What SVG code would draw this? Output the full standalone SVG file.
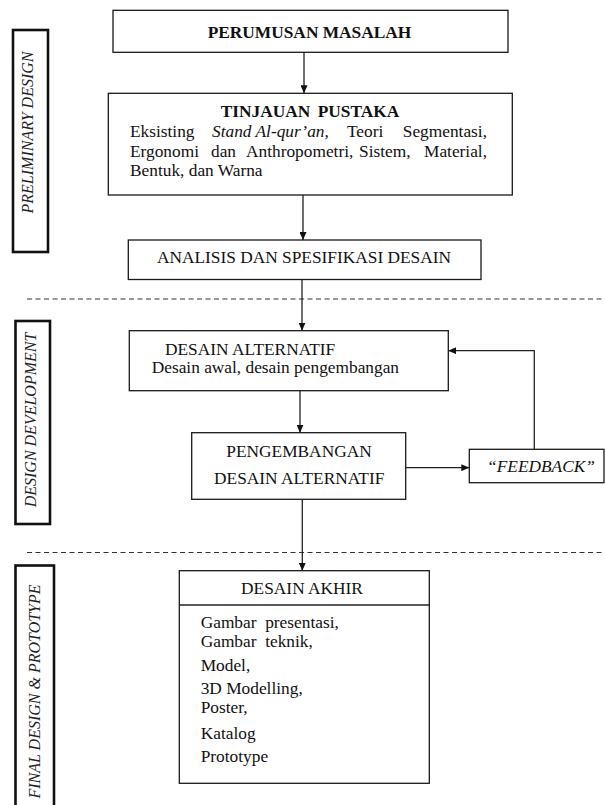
<svg xmlns="http://www.w3.org/2000/svg" width="605" height="805" viewBox="0 0 605 805">
<style>
  .box { fill: #ffffff; stroke: #1a1a1a; stroke-width: 1.3; }
  .lbl { fill: #ffffff; stroke: #111111; stroke-width: 2.6; }
  .t { font-family: 'Liberation Serif', Tinos, 'Times New Roman', 'DejaVu Serif', serif; font-size: 17.33px; fill: #111111; }
  .b { font-weight: bold; }
  .i { font-style: italic; }
  .side { font-family: 'Liberation Serif', Tinos, 'Times New Roman', 'DejaVu Serif', serif; font-size: 16px; font-style: italic; fill: #222222; }
  .conn { fill: none; stroke: #222222; stroke-width: 1.3; }
  .dash { fill: none; stroke: #333333; stroke-width: 1.2; stroke-dasharray: 5 3.5; }
</style>
<defs>
  <marker id="arr" markerUnits="userSpaceOnUse" markerWidth="8" markerHeight="7" refX="8" refY="3.5" orient="auto">
    <path d="M0,0 L8,3.5 L0,7 z" fill="#111111"/>
  </marker>
</defs>
<rect width="605" height="805" fill="#ffffff"/>

<g id="phase-dividers">
  <line class="dash" x1="27" y1="299" x2="605" y2="299"/>
  <line class="dash" x1="27" y1="552.5" x2="605" y2="552.5"/>
</g>

<g id="label-preliminary">
  <rect class="lbl" x="13" y="30" width="35" height="222"/>
  <text class="side" transform="translate(33,132.5) rotate(-90)" text-anchor="middle">PRELIMINARY DESIGN</text>
</g>
<g id="label-development">
  <rect class="lbl" x="15.5" y="321" width="34.5" height="203"/>
  <text class="side" transform="translate(36,420) rotate(-90)" text-anchor="middle">DESIGN DEVELOPMENT</text>
</g>
<g id="label-final">
  <rect class="lbl" x="15.5" y="565.5" width="38.5" height="250"/>
  <text class="side" transform="translate(40,691.5) rotate(-90)" text-anchor="middle" xml:space="preserve">FINAL DESIGN &amp; PROTOTYPE</text>
</g>

<g id="connectors">
  <line class="conn" x1="304" y1="52.3" x2="304" y2="93.3" marker-end="url(#arr)"/>
  <line class="conn" x1="303" y1="195" x2="303" y2="240" marker-end="url(#arr)"/>
  <line class="conn" x1="302" y1="279.5" x2="302" y2="330.7" marker-end="url(#arr)"/>
  <line class="conn" x1="300" y1="390.7" x2="300" y2="432.7" marker-end="url(#arr)"/>
  <line class="conn" x1="405.7" y1="467.7" x2="469.3" y2="467.7" marker-end="url(#arr)"/>
  <polyline class="conn" points="534.3,449.3 534.3,350.7 448.3,350.7" marker-end="url(#arr)"/>
  <line class="conn" x1="302.3" y1="499.3" x2="302.3" y2="570.7" marker-end="url(#arr)"/>
</g>

<g id="node-perumusan">
  <rect class="box" x="113" y="10.3" width="395" height="42"/>
  <text class="t b" x="309.5" y="38" text-anchor="middle">PERUMUSAN MASALAH</text>
</g>

<g id="node-tinjauan">
  <rect class="box" x="108.3" y="93.3" width="404" height="101.7"/>
  <text class="t b" x="310" y="117" text-anchor="middle" word-spacing="3">TINJAUAN PUSTAKA</text>
  <text class="t" y="137"><tspan x="130">Eksisting</tspan><tspan class="i" x="212">Stand Al-qur’an,</tspan><tspan x="347">Teori</tspan></text>
  <text class="t" x="487" y="137" text-anchor="end">Segmentasi,</text>
  <text class="t" y="157"><tspan x="130">Ergonomi</tspan><tspan x="211">dan</tspan><tspan x="246">Anthropometri,</tspan><tspan x="359">Sistem,</tspan></text>
  <text class="t" x="487" y="157" text-anchor="end">Material,</text>
  <text class="t" x="130" y="176">Bentuk, dan Warna</text>
</g>

<g id="node-analisis">
  <rect class="box" x="128.3" y="240" width="352.7" height="39.5"/>
  <text class="t" x="304" y="263.3" text-anchor="middle">ANALISIS DAN SPESIFIKASI DESAIN</text>
</g>

<g id="node-desain-alternatif">
  <rect class="box" x="129.3" y="330.7" width="319" height="60"/>
  <text class="t" x="165" y="355">DESAIN ALTERNATIF</text>
  <text class="t" x="151.7" y="373.3">Desain awal, desain pengembangan</text>
</g>

<g id="node-pengembangan">
  <rect class="box" x="191.7" y="432.7" width="214" height="66.6"/>
  <text class="t" x="299" y="456.7" text-anchor="middle">PENGEMBANGAN</text>
  <text class="t" x="299.2" y="484" text-anchor="middle">DESAIN ALTERNATIF</text>
</g>

<g id="node-feedback">
  <rect class="box" x="469.3" y="449.3" width="134.7" height="33.4"/>
  <text class="t i" x="541" y="471.7" text-anchor="middle" font-size="17px">“FEEDBACK”</text>
</g>

<g id="node-desain-akhir">
  <rect class="box" x="179.3" y="570.7" width="250" height="212.6"/>
  <line class="conn" x1="179.3" y1="605" x2="429.3" y2="605"/>
  <text class="t" x="302" y="593.5" text-anchor="middle">DESAIN AKHIR</text>
  <text class="t" x="200.7" y="628.3" xml:space="preserve">Gambar  presentasi,</text>
  <text class="t" x="200.7" y="647.3" xml:space="preserve">Gambar  teknik,</text>
  <text class="t" x="200.7" y="670.5">Model,</text>
  <text class="t" x="200.7" y="693.5">3D Modelling,</text>
  <text class="t" x="200.7" y="712.5">Poster,</text>
  <text class="t" x="200.7" y="738.5">Katalog</text>
  <text class="t" x="200.7" y="762">Prototype</text>
</g>
</svg>
